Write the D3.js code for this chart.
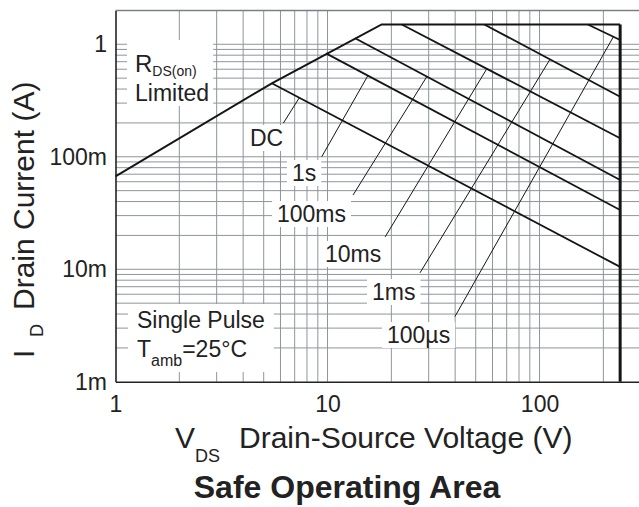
<!DOCTYPE html>
<html>
<head>
<meta charset="utf-8">
<script src="https://cdn.jsdelivr.net/npm/d3@7"></script>
<style>
  body { margin: 0; background: #fff; }
  svg { font-family: "Liberation Sans", Arial, sans-serif; }
</style>
</head>
<body>
<div id="chart"></div>
<script>
// Safe operating area data (V, A)
var rdsLimit = [[1, 0.067], [5.46, 0.45], [18, 1.5]];
var currentLimit = [[18, 1.5], [240, 1.5]];
var voltageLimit = [[240, 1.5], [240, 0.001]];

var pulseNames = ["DC", "1s", "100ms", "10ms", "1ms", "100µs"];
var pulseStart = [[5.46, 0.45], [9.84, 0.83], [13.5, 1.13], [22.4, 1.5], [54.9, 1.5], [169, 1.5]];
var pulseEnd = [[240, 0.0105], [240, 0.0337], [240, 0.0622], [240, 0.146], [240, 0.342], [240, 1.09]];

// leader lines: from the label up to a point on its curve
var leaderFrom = [[6.19, 0.199], [9.39, 0.100], [13.2, 0.0458], [18.7, 0.0194], [27.3, 0.0093], [39.9, 0.0038]];
var leaderToV = [7.36, 15.5, 29.4, 56.4, 112, 223];

var xTicks = [1, 10, 100];
var xTickLabels = ["1", "10", "100"];
var yTicks = [0.001, 0.01, 0.1, 1];
var yTickLabels = ["1m", "10m", "100m", "1"];

// Set up chart area
//================================
var svgWidth = 639;
var svgHeight = 507;

var plot = { left: 115.5, right: 640.7, top: 10.4, bottom: 381.8 };

var svg = d3.select("#chart")
  .append("svg")
  .attr("width", svgWidth)
  .attr("height", svgHeight);

var xScale = d3.scaleLog().domain([1, 300]).range([plot.left, plot.right]);
var yScale = d3.scaleLog().domain([0.001, 2]).range([plot.bottom, plot.top]);

var gridG = svg.append("g");
var boxG = svg.append("g");
var curveG = svg.append("g");
var textG = svg.append("g");

// grid
gridG.selectAll(".vgrid")
  .data(xScale.ticks().filter(d => d > 1))
  .enter()
  .append("line")
  .attr("x1", d => xScale(d))
  .attr("x2", d => xScale(d))
  .attr("y1", plot.top)
  .attr("y2", plot.bottom)
  .attr("stroke", "#8e959d")
  .attr("stroke-width", 1);

gridG.selectAll(".hgrid")
  .data(yScale.ticks().filter(d => d > 0.001 && d < 2))
  .enter()
  .append("line")
  .attr("x1", plot.left)
  .attr("x2", svgWidth)
  .attr("y1", d => yScale(d))
  .attr("y2", d => yScale(d))
  .attr("stroke", "#8e959d")
  .attr("stroke-width", 1);

// top frame
gridG.append("line")
  .attr("x1", plot.left).attr("x2", svgWidth)
  .attr("y1", yScale(2)).attr("y2", yScale(2))
  .attr("stroke", "#7a8088")
  .attr("stroke-width", 1.5);

// axes
var bottomAxis = d3.axisBottom(xScale)
  .tickValues(xTicks)
  .tickSize(0)
  .tickSizeOuter(0)
  .tickPadding(13.5)
  .tickFormat((d, i) => xTickLabels[i]);

var leftAxis = d3.axisLeft(yScale)
  .tickValues(yTicks)
  .tickSize(0)
  .tickSizeOuter(0)
  .tickPadding(8.5)
  .tickFormat((d, i) => yTickLabels[i]);

var xAxisG = svg.append("g")
  .attr("transform", `translate(0, ${plot.bottom})`)
  .call(bottomAxis);

var yAxisG = svg.append("g")
  .attr("transform", `translate(${plot.left}, 0)`)
  .call(leftAxis);

[xAxisG, yAxisG].forEach(function(g) {
  g.select(".domain").attr("stroke", "#222").attr("stroke-width", 1.6);
  g.selectAll("text")
    .attr("fill", "#222")
    .style("font-size", "23px")
    .style("font-family", "'Liberation Sans', Arial, sans-serif");
});

// limit curves
var line = d3.line()
  .x(d => xScale(d[0]))
  .y(d => yScale(d[1]));

curveG.append("path")
  .attr("d", line(rdsLimit.concat(currentLimit.slice(1))))
  .attr("fill", "none")
  .attr("stroke", "#151515")
  .attr("stroke-width", 2);

curveG.append("path")
  .attr("d", line(voltageLimit))
  .attr("fill", "none")
  .attr("stroke", "#151515")
  .attr("stroke-width", 3);

curveG.selectAll(".pulse")
  .data(pulseNames)
  .enter()
  .append("path")
  .attr("d", (d, i) => line([pulseStart[i], pulseEnd[i]]))
  .attr("fill", "none")
  .attr("stroke", "#151515")
  .attr("stroke-width", 1.8);

// current on a pulse line at voltage v (straight in log-log)
function currentAt(i, v) {
  var a = pulseStart[i], b = pulseEnd[i];
  var t = Math.log(v / a[0]) / Math.log(b[0] / a[0]);
  return Math.exp(Math.log(a[1]) + t * Math.log(b[1] / a[1]));
}

curveG.selectAll(".leader")
  .data(pulseNames)
  .enter()
  .append("path")
  .attr("d", (d, i) => line([leaderFrom[i], [leaderToV[i], currentAt(i, leaderToV[i])]]))
  .attr("fill", "none")
  .attr("stroke", "#151515")
  .attr("stroke-width", 1);

// labels with white boxes
function boxBehind(nodes, padL, padR, padT, padB) {
  var x0 = Infinity, y0 = Infinity, x1 = -Infinity, y1 = -Infinity;
  nodes.forEach(function(n) {
    var b = n.getBBox();
    x0 = Math.min(x0, b.x); y0 = Math.min(y0, b.y);
    x1 = Math.max(x1, b.x + b.width); y1 = Math.max(y1, b.y + b.height);
  });
  boxG.append("rect")
    .attr("x", x0 - padL)
    .attr("y", y0 - padT)
    .attr("width", x1 - x0 + padL + padR)
    .attr("height", y1 - y0 + padT + padB)
    .attr("fill", "#fff");
}

var labelPos = [[250, 146], [292, 181], [277, 222], [325, 262], [372, 300], [387, 343]];

pulseNames.forEach(function(name, i) {
  var t = textG.append("text")
    .attr("x", labelPos[i][0])
    .attr("y", labelPos[i][1])
    .attr("fill", "#222")
    .style("font-size", "23px")
    .text(name);
  boxBehind([t.node()], 5, 5, 0, 0);
});

var rds = textG.append("text")
  .attr("x", 135)
  .attr("y", 72)
  .attr("fill", "#222")
  .style("font-size", "24px");
rds.append("tspan").text("R");
rds.append("tspan").attr("dy", 4).style("font-size", "14px").text("DS(on)");
var lim = textG.append("text")
  .attr("x", 135)
  .attr("y", 101)
  .attr("fill", "#222")
  .style("font-size", "23px")
  .text("Limited");
boxBehind([rds.node(), lim.node()], 8, 4, 10, 0);

var sp = textG.append("text")
  .attr("x", 137)
  .attr("y", 328)
  .attr("fill", "#222")
  .style("font-size", "23px")
  .text("Single Pulse");
var tamb = textG.append("text")
  .attr("x", 137)
  .attr("y", 357)
  .attr("fill", "#222")
  .style("font-size", "23px");
tamb.append("tspan").text("T");
tamb.append("tspan").attr("dy", 9).style("font-size", "16px").text("amb");
tamb.append("tspan").attr("dy", -9).text("=25°C");
boxBehind([sp.node(), tamb.node()], 9, 9, 3, 3);

// axis titles
var xt = svg.append("text")
  .attr("x", 175)
  .attr("y", 448)
  .attr("fill", "#222")
  .style("font-size", "30px");
xt.append("tspan").text("V");
xt.append("tspan").attr("dy", 14).style("font-size", "18px").text("DS");
xt.append("tspan").attr("dy", -14).attr("x", 239).text("Drain-Source Voltage (V)");

svg.append("text")
  .attr("transform", "translate(34, 358) rotate(-90)")
  .attr("fill", "#222")
  .style("font-size", "30px")
  .text("I");
svg.append("text")
  .attr("transform", "translate(43, 337) rotate(-90)")
  .attr("fill", "#222")
  .style("font-size", "18px")
  .text("D");
svg.append("text")
  .attr("transform", "translate(34, 310) rotate(-90)")
  .attr("fill", "#222")
  .style("font-size", "30px")
  .text("Drain Current (A)");

svg.append("text")
  .attr("x", 347)
  .attr("y", 498)
  .attr("text-anchor", "middle")
  .attr("fill", "#222")
  .style("font-size", "32px")
  .style("font-weight", "bold")
  .text("Safe Operating Area");
</script>
</body>
</html>
